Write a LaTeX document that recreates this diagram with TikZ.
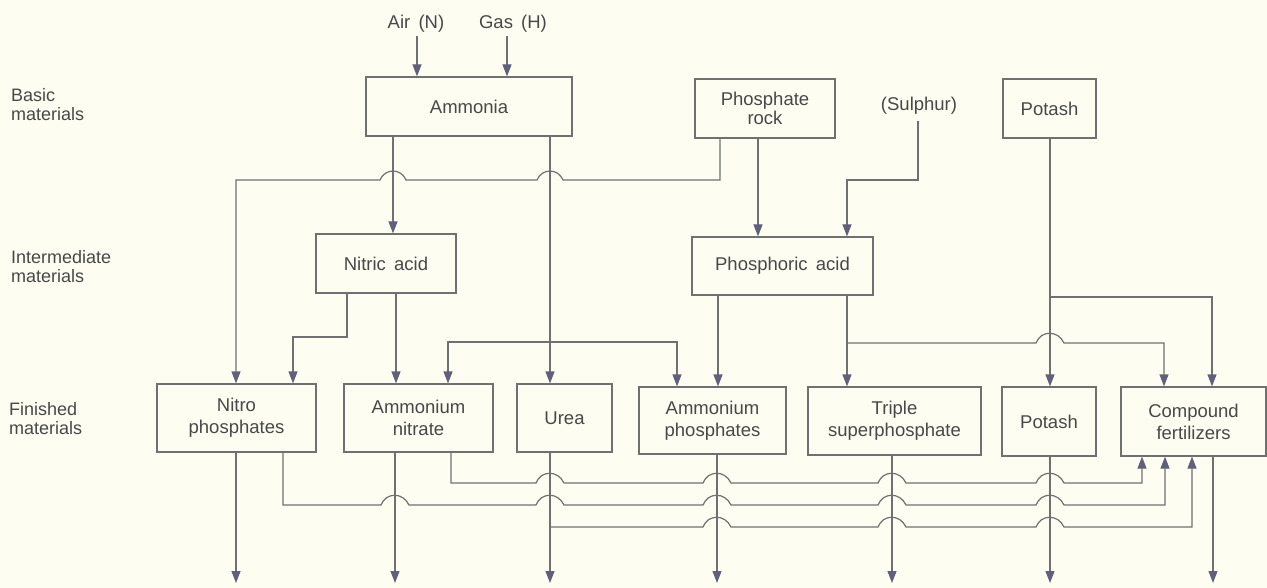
\documentclass[tikz,border=0pt]{standalone}
\usepackage{fontspec}
\setmainfont{Liberation Sans}
\usetikzlibrary{arrows.meta}
\definecolor{bgc}{RGB}{253,253,241}
\definecolor{lnc}{RGB}{112,112,112}
\definecolor{ahc}{RGB}{96,96,124}
\definecolor{txc}{RGB}{72,72,72}
% hop over a vertical line at x=#1 on horizontal line y=#2
\newcommand\hopR[2]{-- ({#1-14},#2) .. controls ({#1-9},{#2-13}) and ({#1+8},{#2-13}) .. ({#1+14},#2)}
\newcommand\hopL[2]{-- ({#1+13},#2) .. controls ({#1+8},{#2-12}) and ({#1-8},{#2-12}) .. ({#1-13},#2)}
\tikzset{
  conn/.style={draw=lnc, line width=1.2pt},
  arr/.style={conn, -{Triangle[length=12pt,width=9pt,color=ahc]}},
  stepbox/.style={draw=lnc, line width=1.2pt, inner sep=0pt, align=center, text=txc,
    font=\fontsize{18.5}{22}\selectfont},
  lbl/.style={inner sep=0pt, align=center, text=txc, font=\fontsize{18.5}{22}\selectfont},
  side/.style={inner sep=0pt, align=left, text=txc, anchor=west, font=\fontsize{18}{19}\selectfont}
}
\begin{document}
\begin{tikzpicture}[x=1pt,y=-1pt]
\fill[bgc] (0,0) rectangle (1267,588);
\useasboundingbox (0,0) rectangle (1267,588);

% side labels
\node[side] (lb) at (11,105) {Basic\\materials};
\node[side] (li) at (11,267) {Intermediate\\materials};
\node[side] (lf) at (9,419) {Finished\\materials};

% top inputs
\node[lbl] (air) at (416,24) {Air \,(N)};
\node[lbl] (gas) at (513,24) {Gas \,(H)};
\node[lbl] (sul) at (919,106) {(Sulphur)};

% boxes
\node[stepbox, minimum width=206pt, minimum height=59pt] (amm) at (469,106.5) {Ammonia};
\node[stepbox, minimum width=140pt, minimum height=59pt, font=\fontsize{18.5}{16.5}\selectfont] (prock) at (765,108.5) {Phosphate\\rock};
\node[stepbox, minimum width=93pt, minimum height=59pt] (potT) at (1049.5,108.5) {Potash};
\node[stepbox, minimum width=140pt, minimum height=59pt] (nitric) at (386,263.5) {Nitric \,acid};
\node[stepbox, minimum width=181pt, minimum height=58pt] (phos) at (782.5,266) {Phosphoric \,acid};
\node[stepbox, minimum width=159pt, minimum height=68pt] (nitro) at (236.5,418) {Nitro\\phosphates};
\node[stepbox, minimum width=149pt, minimum height=68pt] (an) at (418.5,418) {Ammonium\\nitrate};
\node[stepbox, minimum width=95pt, minimum height=68pt] (urea) at (564.5,418) {Urea};
\node[stepbox, minimum width=147pt, minimum height=67pt] (ap) at (712.5,420.5) {Ammonium\\phosphates};
\node[stepbox, minimum width=173pt, minimum height=68pt] (tsp) at (894.5,421) {Triple\\superphosphate};
\node[stepbox, minimum width=94pt, minimum height=69pt] (potB) at (1049,421.5) {Potash};
\node[stepbox, minimum width=145pt, minimum height=69pt] (cf) at (1193.5,421.5) {Compound\\fertilizers};

\coordinate (bottom) at (0,583);
\coordinate (j1) at (550,342);
\coordinate (j2) at (847,343);
\coordinate (j3) at (1050,297);
\coordinate (j4) at (550,527);

% inputs to ammonia
\draw[arr] ([xshift=1pt,yshift=-3pt]air.south) -- ([xshift=1pt]air.south |- amm.north);
\draw[arr] ([xshift=-6pt,yshift=-3pt]gas.south) -- ([xshift=-6pt]gas.south |- amm.north);

% ammonia outputs
\draw[arr] (393,0 |- amm.south) -- (393,0 |- nitric.north);
\draw[arr] (550,0 |- amm.south) -- (550,0 |- urea.north);
\draw[arr] (j1) -| (448,0 |- an.north);
\draw[arr] (j1) -| (677,0 |- ap.north);

% phosphate rock
\draw[arr] (720,0 |- prock.south) -- (720,180) \hopL{550}{180} \hopL{393}{180} -- (236,180) -- (236,0 |- nitro.north);
\draw[arr] (758,0 |- prock.south) -- (758,0 |- phos.north);

% sulphur
\draw[arr] ([yshift=-6pt]sul.south -| 918,0) -- (918,180) -| (847,0 |- phos.north);

% nitric acid
\draw[arr] (347,0 |- nitric.south) -- (347,337) -| (293,0 |- nitro.north);
\draw[arr] (396,0 |- nitric.south) -- (396,0 |- an.north);

% phosphoric acid
\draw[arr] (718,0 |- phos.south) -- (718,0 |- ap.north);
\draw[arr] (847,0 |- phos.south) -- (847,0 |- tsp.north);
\draw[arr] (j2) \hopR{1050}{343} -- (1164,343) -- (1164,0 |- cf.north);

% potash
\draw[arr] (1050,0 |- potT.south) -- (1050,0 |- potB.north);
\draw[arr] (j3) -| (1212,0 |- cf.north);

% outputs
\draw[arr] (236,0 |- nitro.south) -- (236,0 |- bottom);
\draw[arr] (395,0 |- an.south) -- (395,0 |- bottom);
\draw[arr] (550,0 |- urea.south) -- (550,0 |- bottom);
\draw[arr] (717,0 |- ap.south) -- (717,0 |- bottom);
\draw[arr] (892,0 |- tsp.south) -- (892,0 |- bottom);
\draw[arr] (1050,0 |- potB.south) -- (1050,0 |- bottom);
\draw[arr] (1213,0 |- cf.south) -- (1213,0 |- bottom);

% recycle lines into compound fertilizers
\draw[arr] (451,0 |- an.south) -- (451,483) \hopR{550}{483} \hopR{717}{483} \hopR{892}{483} \hopR{1050}{483} -- (1142,483) -- (1142,0 |- cf.south);
\draw[arr] (283,0 |- nitro.south) -- (283,505) \hopR{395}{505} \hopR{550}{505} \hopR{717}{505} \hopR{892}{505} \hopR{1050}{505} -- (1165,505) -- (1165,0 |- cf.south);
\draw[arr] (j4) \hopR{717}{527} \hopR{892}{527} \hopR{1050}{527} -- (1192,527) -- (1192,0 |- cf.south);
\end{tikzpicture}
\end{document}
